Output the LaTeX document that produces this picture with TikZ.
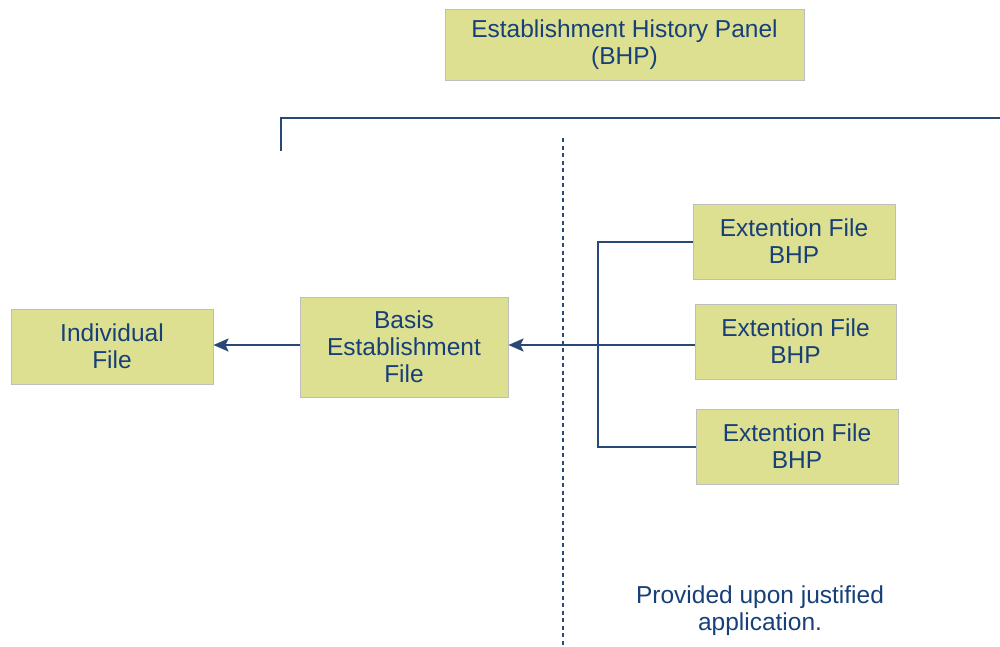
\documentclass[tikz,border=0pt]{standalone}
\usepackage{fontspec}
\setmainfont{Liberation Sans}
\usetikzlibrary{arrows.meta}
\definecolor{boxfill}{RGB}{221,224,145}
\definecolor{boxedge}{RGB}{190,190,190}
\definecolor{txtblue}{RGB}{24,64,120}
\definecolor{lineblue}{RGB}{40,72,118}
\tikzset{
  filebox/.style={draw=boxedge, line width=1pt, fill=boxfill, text=txtblue, align=center,
    font=\fontsize{24.5}{27}\selectfont, inner sep=0pt},
  linkline/.style={draw=lineblue, line width=2pt},
  arrowend/.style={-{Stealth[length=15pt,width=13pt,inset=3pt]}}
}
\begin{document}
\begin{tikzpicture}[x=1pt,y=-1pt]
\useasboundingbox (0,0) rectangle (1000,646);
\node[filebox, minimum width=359pt, minimum height=71pt] (bhp) at (624.5,44.5) {Establishment History Panel\\(BHP)};
\node[filebox, minimum width=202pt, minimum height=75pt] (ind) at (112,346.5) {Individual\\File};
\node[filebox, minimum width=208pt, minimum height=100pt] (basis) at (404,347) {Basis\\Establishment\\File};
\node[filebox, minimum width=202pt, minimum height=75pt] (ext1) at (794,241.5) {Extention File\\BHP};
\node[filebox, minimum width=201pt, minimum height=75pt] (ext2) at (795.5,341.5) {Extention File\\BHP};
\node[filebox, minimum width=202pt, minimum height=75pt] (ext3) at (797,446.5) {Extention File\\BHP};
\coordinate (tl) at (281,118);
\coordinate (tr) at (1000,118);
\coordinate (tlb) at (281,151);
\coordinate (dtop) at (563,138);
\coordinate (dbot) at (563,646);
\coordinate (midy) at (598,345);
\draw[linkline] (tlb) -- (tl) -- (tr);
\draw[draw=lineblue, line width=1.6pt, dash pattern=on 4pt off 3.5pt] (dtop) -- (dbot);
\draw[linkline] (ext1.west) -- ++(-95,0) |- (ext3.west);
\draw[linkline, arrowend] (ext2.west |- midy) -- (basis.east |- midy);
\draw[linkline, arrowend] (basis.west |- midy) -- (ind.east |- midy);
\node[text=txtblue, align=center, font=\fontsize{24.5}{27}\selectfont] (note) at (760,611) {Provided upon justified\\application.};
\end{tikzpicture}
\end{document}
